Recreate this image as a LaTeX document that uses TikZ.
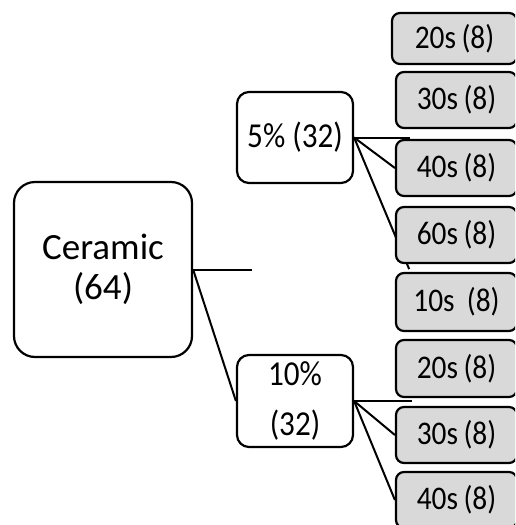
\documentclass[tikz,border=0pt]{standalone}
\usepackage{fontspec}
\setmainfont{Carlito}
\newfontfamily\tallfont[FakeStretch=0.89]{Carlito}
\usetikzlibrary{calc,backgrounds}
\definecolor{boxgray}{HTML}{D9D9D9}
\tikzset{
  rootbox/.style={draw=black, line width=2.2pt, rounded corners=21pt, fill=white,
    inner sep=0pt, align=center, font=\fontsize{37}{40}\selectfont},
  midbox/.style={draw=black, line width=2.2pt, rounded corners=12pt, fill=white,
    inner sep=0pt, align=center, font=\tallfont\fontsize{35}{50}\selectfont,
    minimum width=116pt},
  leafbox/.style={draw=black, line width=2.2pt, rounded corners=8pt, fill=boxgray,
    inner sep=0pt, font=\tallfont\fontsize{33}{36}\selectfont, minimum width=121pt},
  link/.style={draw=black, line width=2pt},
}
\begin{document}
\begin{tikzpicture}[x=1pt, y=-1pt]
\useasboundingbox (0,0) rectangle (515,525);
\clip (0,0) rectangle (515,525);

% root and the two concentration groups
\node[rootbox, minimum width=178pt, minimum height=175pt] (root) at (103,269.5) {Ceramic\\(64)};
\node[midbox, minimum height=91pt] (p5) at (295,137.5) {5\% (32)};
\node[midbox, minimum height=92pt] (p10) at (295,401) {10\%\\(32)};

% time groups, cut off at the right edge
\node[leafbox, minimum width=125pt, minimum height=51pt] (a20) at (454.5,38.5) {20s\,(8)};
\node[leafbox, minimum height=56pt] (a30) at (456.5,100) {30s\,(8)};
\node[leafbox, minimum height=56pt] (a40) at (456.5,168) {40s\,(8)};
\node[leafbox, minimum height=56pt] (a60) at (456.5,235) {60s\,(8)};
\node[leafbox, minimum height=58pt] (b10) at (456.5,302) {10s\ \,(8)};
\node[leafbox, minimum height=57pt] (b20) at (456.5,368.5) {20s\,(8)};
\node[leafbox, minimum height=56pt] (b30) at (456.5,435) {30s\,(8)};
\node[leafbox, minimum height=56pt] (b40) at (456.5,500) {40s\,(8)};

% loose line ends
\coordinate (rootend) at (252,269.5);
\coordinate (p5end) at (410,137.5);
\coordinate (p10end) at (412,401);

% connectors run behind the boxes
\begin{scope}[on background layer]
  \draw[link] (root.east) -- (rootend);
  \draw[link] (root.east) -- (p10.west);
  \draw[link] (p5.east) -- (p5end);
  \draw[link] (p5.east) -- (a40.west);
  \draw[link] (p5.east) -- ($(p5.east)!1.35!(a60.west)$);
  \draw[link] (p10.east) -- (p10end);
  \draw[link] (p10.east) -- (b30.west);
  \draw[link] (p10.east) -- (b40.west);
\end{scope}
\end{tikzpicture}
\end{document}
